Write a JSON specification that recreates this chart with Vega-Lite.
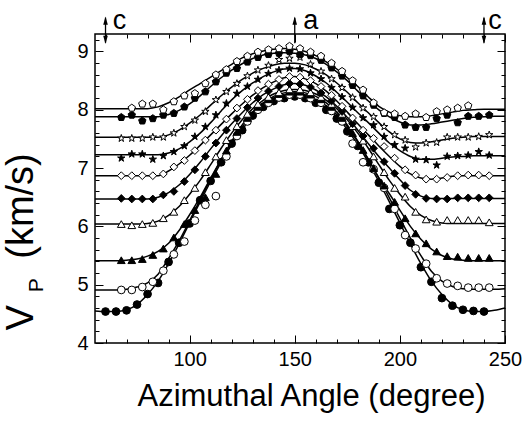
{
  "$schema": "https://vega.github.io/schema/vega-lite/v6.json",
  "autosize": {"type": "none"},
  "padding": {"left": 95, "top": 34, "right": 22, "bottom": 78},
  "width": 410,
  "height": 309,
  "config": {"view": {"stroke": "black", "strokeWidth": 1.5}, "font": "Liberation Sans"},
  "datasets": {
    "lines": [
      {"s":"a","x":55,"v":4.55},{"s":"a","x":60,"v":4.54},{"s":"a","x":65,"v":4.54},{"s":"a","x":70,"v":4.57},{"s":"a","x":75,"v":4.66},{"s":"a","x":80,"v":4.83},{"s":"a","x":85,"v":5.06},{"s":"a","x":90,"v":5.36},{"s":"a","x":95,"v":5.70},{"s":"a","x":100,"v":6.06},{"s":"a","x":105,"v":6.42},{"s":"a","x":110,"v":6.77},{"s":"a","x":115,"v":7.10},{"s":"a","x":120,"v":7.40},{"s":"a","x":125,"v":7.66},{"s":"a","x":130,"v":7.88},{"s":"a","x":135,"v":8.03},{"s":"a","x":140,"v":8.13},{"s":"a","x":145,"v":8.19},{"s":"a","x":150,"v":8.22},{"s":"a","x":155,"v":8.19},{"s":"a","x":160,"v":8.13},{"s":"a","x":165,"v":8.03},{"s":"a","x":170,"v":7.88},{"s":"a","x":175,"v":7.66},{"s":"a","x":180,"v":7.40},{"s":"a","x":185,"v":7.10},{"s":"a","x":190,"v":6.77},{"s":"a","x":195,"v":6.42},{"s":"a","x":200,"v":6.06},{"s":"a","x":205,"v":5.70},{"s":"a","x":210,"v":5.36},{"s":"a","x":215,"v":5.06},{"s":"a","x":220,"v":4.83},{"s":"a","x":225,"v":4.66},{"s":"a","x":230,"v":4.57},{"s":"a","x":235,"v":4.54},{"s":"a","x":240,"v":4.54},{"s":"a","x":245,"v":4.56},{"s":"a","x":250,"v":4.60},
      {"s":"b","x":55,"v":4.91},{"s":"b","x":60,"v":4.91},{"s":"b","x":65,"v":4.91},{"s":"b","x":70,"v":4.92},{"s":"b","x":75,"v":4.96},{"s":"b","x":80,"v":5.03},{"s":"b","x":85,"v":5.18},{"s":"b","x":90,"v":5.45},{"s":"b","x":95,"v":5.75},{"s":"b","x":100,"v":6.10},{"s":"b","x":105,"v":6.46},{"s":"b","x":110,"v":6.81},{"s":"b","x":115,"v":7.14},{"s":"b","x":120,"v":7.44},{"s":"b","x":125,"v":7.70},{"s":"b","x":130,"v":7.92},{"s":"b","x":135,"v":8.07},{"s":"b","x":140,"v":8.17},{"s":"b","x":145,"v":8.24},{"s":"b","x":150,"v":8.27},{"s":"b","x":155,"v":8.24},{"s":"b","x":160,"v":8.17},{"s":"b","x":165,"v":8.07},{"s":"b","x":170,"v":7.92},{"s":"b","x":175,"v":7.71},{"s":"b","x":180,"v":7.45},{"s":"b","x":185,"v":7.15},{"s":"b","x":190,"v":6.83},{"s":"b","x":195,"v":6.49},{"s":"b","x":200,"v":6.14},{"s":"b","x":205,"v":5.80},{"s":"b","x":210,"v":5.50},{"s":"b","x":215,"v":5.23},{"s":"b","x":220,"v":5.06},{"s":"b","x":225,"v":4.97},{"s":"b","x":230,"v":4.93},{"s":"b","x":235,"v":4.92},{"s":"b","x":240,"v":4.92},{"s":"b","x":245,"v":4.92},{"s":"b","x":250,"v":4.93},
      {"s":"c","x":55,"v":5.41},{"s":"c","x":60,"v":5.41},{"s":"c","x":65,"v":5.41},{"s":"c","x":70,"v":5.42},{"s":"c","x":75,"v":5.44},{"s":"c","x":80,"v":5.49},{"s":"c","x":85,"v":5.57},{"s":"c","x":90,"v":5.71},{"s":"c","x":95,"v":5.93},{"s":"c","x":100,"v":6.20},{"s":"c","x":105,"v":6.50},{"s":"c","x":110,"v":6.83},{"s":"c","x":115,"v":7.15},{"s":"c","x":120,"v":7.46},{"s":"c","x":125,"v":7.74},{"s":"c","x":130,"v":7.96},{"s":"c","x":135,"v":8.12},{"s":"c","x":140,"v":8.23},{"s":"c","x":145,"v":8.29},{"s":"c","x":150,"v":8.31},{"s":"c","x":155,"v":8.29},{"s":"c","x":160,"v":8.23},{"s":"c","x":165,"v":8.12},{"s":"c","x":170,"v":7.96},{"s":"c","x":175,"v":7.74},{"s":"c","x":180,"v":7.46},{"s":"c","x":185,"v":7.15},{"s":"c","x":190,"v":6.83},{"s":"c","x":195,"v":6.56},{"s":"c","x":200,"v":6.28},{"s":"c","x":205,"v":6.00},{"s":"c","x":210,"v":5.78},{"s":"c","x":215,"v":5.61},{"s":"c","x":220,"v":5.50},{"s":"c","x":225,"v":5.44},{"s":"c","x":230,"v":5.42},{"s":"c","x":235,"v":5.41},{"s":"c","x":240,"v":5.41},{"s":"c","x":245,"v":5.41},{"s":"c","x":250,"v":5.41},
      {"s":"d","x":55,"v":6.04},{"s":"d","x":60,"v":6.04},{"s":"d","x":65,"v":6.04},{"s":"d","x":70,"v":6.04},{"s":"d","x":75,"v":6.04},{"s":"d","x":80,"v":6.05},{"s":"d","x":85,"v":6.09},{"s":"d","x":90,"v":6.19},{"s":"d","x":95,"v":6.34},{"s":"d","x":100,"v":6.55},{"s":"d","x":105,"v":6.79},{"s":"d","x":110,"v":7.06},{"s":"d","x":115,"v":7.34},{"s":"d","x":120,"v":7.60},{"s":"d","x":125,"v":7.83},{"s":"d","x":130,"v":8.02},{"s":"d","x":135,"v":8.16},{"s":"d","x":140,"v":8.27},{"s":"d","x":145,"v":8.33},{"s":"d","x":150,"v":8.35},{"s":"d","x":155,"v":8.33},{"s":"d","x":160,"v":8.27},{"s":"d","x":165,"v":8.16},{"s":"d","x":170,"v":8.02},{"s":"d","x":175,"v":7.83},{"s":"d","x":180,"v":7.60},{"s":"d","x":185,"v":7.34},{"s":"d","x":190,"v":7.06},{"s":"d","x":195,"v":6.79},{"s":"d","x":200,"v":6.55},{"s":"d","x":205,"v":6.34},{"s":"d","x":210,"v":6.19},{"s":"d","x":215,"v":6.10},{"s":"d","x":220,"v":6.06},{"s":"d","x":225,"v":6.05},{"s":"d","x":230,"v":6.05},{"s":"d","x":235,"v":6.05},{"s":"d","x":240,"v":6.05},{"s":"d","x":245,"v":6.05},{"s":"d","x":250,"v":6.05},
      {"s":"e","x":55,"v":6.47},{"s":"e","x":60,"v":6.47},{"s":"e","x":65,"v":6.47},{"s":"e","x":70,"v":6.47},{"s":"e","x":75,"v":6.47},{"s":"e","x":80,"v":6.47},{"s":"e","x":85,"v":6.50},{"s":"e","x":90,"v":6.58},{"s":"e","x":95,"v":6.71},{"s":"e","x":100,"v":6.89},{"s":"e","x":105,"v":7.10},{"s":"e","x":110,"v":7.33},{"s":"e","x":115,"v":7.55},{"s":"e","x":120,"v":7.76},{"s":"e","x":125,"v":7.95},{"s":"e","x":130,"v":8.12},{"s":"e","x":135,"v":8.26},{"s":"e","x":140,"v":8.36},{"s":"e","x":145,"v":8.43},{"s":"e","x":150,"v":8.45},{"s":"e","x":155,"v":8.42},{"s":"e","x":160,"v":8.34},{"s":"e","x":165,"v":8.22},{"s":"e","x":170,"v":8.06},{"s":"e","x":175,"v":7.87},{"s":"e","x":180,"v":7.65},{"s":"e","x":185,"v":7.42},{"s":"e","x":190,"v":7.20},{"s":"e","x":195,"v":7.00},{"s":"e","x":200,"v":6.80},{"s":"e","x":205,"v":6.62},{"s":"e","x":210,"v":6.52},{"s":"e","x":215,"v":6.48},{"s":"e","x":220,"v":6.48},{"s":"e","x":225,"v":6.48},{"s":"e","x":230,"v":6.48},{"s":"e","x":235,"v":6.48},{"s":"e","x":240,"v":6.48},{"s":"e","x":245,"v":6.48},{"s":"e","x":250,"v":6.48},
      {"s":"f","x":55,"v":6.87},{"s":"f","x":60,"v":6.87},{"s":"f","x":65,"v":6.87},{"s":"f","x":70,"v":6.87},{"s":"f","x":75,"v":6.87},{"s":"f","x":80,"v":6.87},{"s":"f","x":85,"v":6.87},{"s":"f","x":90,"v":6.95},{"s":"f","x":95,"v":7.07},{"s":"f","x":100,"v":7.22},{"s":"f","x":105,"v":7.39},{"s":"f","x":110,"v":7.57},{"s":"f","x":115,"v":7.75},{"s":"f","x":120,"v":7.93},{"s":"f","x":125,"v":8.10},{"s":"f","x":130,"v":8.25},{"s":"f","x":135,"v":8.38},{"s":"f","x":140,"v":8.48},{"s":"f","x":145,"v":8.55},{"s":"f","x":150,"v":8.57},{"s":"f","x":155,"v":8.53},{"s":"f","x":160,"v":8.45},{"s":"f","x":165,"v":8.32},{"s":"f","x":170,"v":8.15},{"s":"f","x":175,"v":7.96},{"s":"f","x":180,"v":7.76},{"s":"f","x":185,"v":7.57},{"s":"f","x":190,"v":7.38},{"s":"f","x":195,"v":7.20},{"s":"f","x":200,"v":7.03},{"s":"f","x":205,"v":6.90},{"s":"f","x":210,"v":6.83},{"s":"f","x":215,"v":6.81},{"s":"f","x":220,"v":6.83},{"s":"f","x":225,"v":6.86},{"s":"f","x":230,"v":6.87},{"s":"f","x":235,"v":6.87},{"s":"f","x":240,"v":6.87},{"s":"f","x":245,"v":6.87},{"s":"f","x":250,"v":6.87},
      {"s":"g","x":55,"v":7.23},{"s":"g","x":60,"v":7.23},{"s":"g","x":65,"v":7.23},{"s":"g","x":70,"v":7.23},{"s":"g","x":75,"v":7.23},{"s":"g","x":80,"v":7.23},{"s":"g","x":85,"v":7.23},{"s":"g","x":90,"v":7.26},{"s":"g","x":95,"v":7.33},{"s":"g","x":100,"v":7.45},{"s":"g","x":105,"v":7.60},{"s":"g","x":110,"v":7.78},{"s":"g","x":115,"v":7.98},{"s":"g","x":120,"v":8.17},{"s":"g","x":125,"v":8.33},{"s":"g","x":130,"v":8.46},{"s":"g","x":135,"v":8.57},{"s":"g","x":140,"v":8.65},{"s":"g","x":145,"v":8.70},{"s":"g","x":150,"v":8.71},{"s":"g","x":155,"v":8.67},{"s":"g","x":160,"v":8.58},{"s":"g","x":165,"v":8.46},{"s":"g","x":170,"v":8.30},{"s":"g","x":175,"v":8.13},{"s":"g","x":180,"v":7.95},{"s":"g","x":185,"v":7.78},{"s":"g","x":190,"v":7.60},{"s":"g","x":195,"v":7.43},{"s":"g","x":200,"v":7.30},{"s":"g","x":205,"v":7.20},{"s":"g","x":210,"v":7.15},{"s":"g","x":215,"v":7.15},{"s":"g","x":220,"v":7.17},{"s":"g","x":225,"v":7.19},{"s":"g","x":230,"v":7.20},{"s":"g","x":235,"v":7.21},{"s":"g","x":240,"v":7.21},{"s":"g","x":245,"v":7.21},{"s":"g","x":250,"v":7.21},
      {"s":"h","x":55,"v":7.53},{"s":"h","x":60,"v":7.53},{"s":"h","x":65,"v":7.53},{"s":"h","x":70,"v":7.53},{"s":"h","x":75,"v":7.53},{"s":"h","x":80,"v":7.53},{"s":"h","x":85,"v":7.53},{"s":"h","x":90,"v":7.57},{"s":"h","x":95,"v":7.65},{"s":"h","x":100,"v":7.77},{"s":"h","x":105,"v":7.91},{"s":"h","x":110,"v":8.08},{"s":"h","x":115,"v":8.24},{"s":"h","x":120,"v":8.39},{"s":"h","x":125,"v":8.52},{"s":"h","x":130,"v":8.63},{"s":"h","x":135,"v":8.71},{"s":"h","x":140,"v":8.77},{"s":"h","x":145,"v":8.80},{"s":"h","x":150,"v":8.80},{"s":"h","x":155,"v":8.77},{"s":"h","x":160,"v":8.70},{"s":"h","x":165,"v":8.60},{"s":"h","x":170,"v":8.46},{"s":"h","x":175,"v":8.30},{"s":"h","x":180,"v":8.12},{"s":"h","x":185,"v":7.95},{"s":"h","x":190,"v":7.78},{"s":"h","x":195,"v":7.62},{"s":"h","x":200,"v":7.50},{"s":"h","x":205,"v":7.44},{"s":"h","x":210,"v":7.43},{"s":"h","x":215,"v":7.45},{"s":"h","x":220,"v":7.48},{"s":"h","x":225,"v":7.51},{"s":"h","x":230,"v":7.53},{"s":"h","x":235,"v":7.54},{"s":"h","x":240,"v":7.54},{"s":"h","x":245,"v":7.54},{"s":"h","x":250,"v":7.54},
      {"s":"i","x":55,"v":7.88},{"s":"i","x":60,"v":7.88},{"s":"i","x":65,"v":7.88},{"s":"i","x":70,"v":7.88},{"s":"i","x":75,"v":7.88},{"s":"i","x":80,"v":7.88},{"s":"i","x":85,"v":7.88},{"s":"i","x":90,"v":7.92},{"s":"i","x":95,"v":7.99},{"s":"i","x":100,"v":8.10},{"s":"i","x":105,"v":8.24},{"s":"i","x":110,"v":8.40},{"s":"i","x":115,"v":8.55},{"s":"i","x":120,"v":8.68},{"s":"i","x":125,"v":8.79},{"s":"i","x":130,"v":8.88},{"s":"i","x":135,"v":8.94},{"s":"i","x":140,"v":8.97},{"s":"i","x":145,"v":8.98},{"s":"i","x":150,"v":8.97},{"s":"i","x":155,"v":8.94},{"s":"i","x":160,"v":8.88},{"s":"i","x":165,"v":8.78},{"s":"i","x":170,"v":8.65},{"s":"i","x":175,"v":8.50},{"s":"i","x":180,"v":8.32},{"s":"i","x":185,"v":8.15},{"s":"i","x":190,"v":8.00},{"s":"i","x":195,"v":7.88},{"s":"i","x":200,"v":7.79},{"s":"i","x":205,"v":7.74},{"s":"i","x":210,"v":7.74},{"s":"i","x":215,"v":7.76},{"s":"i","x":220,"v":7.79},{"s":"i","x":225,"v":7.82},{"s":"i","x":230,"v":7.85},{"s":"i","x":235,"v":7.87},{"s":"i","x":240,"v":7.88},{"s":"i","x":245,"v":7.89},{"s":"i","x":250,"v":7.89},
      {"s":"j","x":55,"v":8.02},{"s":"j","x":60,"v":8.02},{"s":"j","x":65,"v":8.02},{"s":"j","x":70,"v":8.02},{"s":"j","x":75,"v":8.02},{"s":"j","x":80,"v":8.02},{"s":"j","x":85,"v":8.05},{"s":"j","x":90,"v":8.12},{"s":"j","x":95,"v":8.22},{"s":"j","x":100,"v":8.34},{"s":"j","x":105,"v":8.45},{"s":"j","x":110,"v":8.56},{"s":"j","x":115,"v":8.67},{"s":"j","x":120,"v":8.78},{"s":"j","x":125,"v":8.89},{"s":"j","x":130,"v":8.96},{"s":"j","x":135,"v":9.01},{"s":"j","x":140,"v":9.04},{"s":"j","x":145,"v":9.05},{"s":"j","x":150,"v":9.04},{"s":"j","x":155,"v":9.00},{"s":"j","x":160,"v":8.93},{"s":"j","x":165,"v":8.82},{"s":"j","x":170,"v":8.70},{"s":"j","x":175,"v":8.55},{"s":"j","x":180,"v":8.40},{"s":"j","x":185,"v":8.22},{"s":"j","x":190,"v":8.06},{"s":"j","x":195,"v":7.96},{"s":"j","x":200,"v":7.90},{"s":"j","x":205,"v":7.88},{"s":"j","x":210,"v":7.88},{"s":"j","x":215,"v":7.90},{"s":"j","x":220,"v":7.93},{"s":"j","x":225,"v":7.96},{"s":"j","x":230,"v":7.99},{"s":"j","x":235,"v":8.00},{"s":"j","x":240,"v":8.01},{"s":"j","x":245,"v":8.01},{"s":"j","x":250,"v":8.01}
    ],
    "pts": [
      {"s":"a","x":60,"v":4.54},{"s":"a","x":65,"v":4.54},{"s":"a","x":70,"v":4.56},{"s":"a","x":75,"v":4.66},{"s":"a","x":80,"v":4.84},{"s":"a","x":85,"v":5.03},{"s":"a","x":90,"v":5.39},{"s":"a","x":95,"v":5.72},{"s":"a","x":100,"v":6.05},{"s":"a","x":105,"v":6.45},{"s":"a","x":110,"v":6.78},{"s":"a","x":115,"v":7.1},{"s":"a","x":120,"v":7.42},{"s":"a","x":125,"v":7.65},{"s":"a","x":130,"v":7.9},{"s":"a","x":135,"v":8.05},{"s":"a","x":140,"v":8.15},{"s":"a","x":145,"v":8.2},{"s":"a","x":150,"v":8.23},{"s":"a","x":155,"v":8.2},{"s":"a","x":160,"v":8.12},{"s":"a","x":165,"v":8.0},{"s":"a","x":170,"v":7.85},{"s":"a","x":175,"v":7.63},{"s":"a","x":180,"v":7.38},{"s":"a","x":185,"v":7.1},{"s":"a","x":190,"v":6.75},{"s":"a","x":195,"v":6.3},{"s":"a","x":200,"v":6.02},{"s":"a","x":205,"v":5.72},{"s":"a","x":210,"v":5.3},{"s":"a","x":215,"v":5.05},{"s":"a","x":220,"v":4.77},{"s":"a","x":225,"v":4.64},{"s":"a","x":230,"v":4.57},{"s":"a","x":235,"v":4.55},{"s":"a","x":240,"v":4.54},
      {"s":"b","x":67.5,"v":4.91},{"s":"b","x":72.5,"v":4.91},{"s":"b","x":77.5,"v":4.96},{"s":"b","x":82.5,"v":5.05},{"s":"b","x":87.5,"v":5.24},{"s":"b","x":92.5,"v":5.52},{"s":"b","x":97.5,"v":5.74},{"s":"b","x":102.5,"v":6.1},{"s":"b","x":107.5,"v":6.37},{"s":"b","x":112.5,"v":6.52},{"s":"b","x":117.5,"v":7.2},{"s":"b","x":122.5,"v":7.55},{"s":"b","x":127.5,"v":7.8},{"s":"b","x":132.5,"v":8.0},{"s":"b","x":137.5,"v":8.12},{"s":"b","x":142.5,"v":8.21},{"s":"b","x":147.5,"v":8.26},{"s":"b","x":152.5,"v":8.26},{"s":"b","x":157.5,"v":8.2},{"s":"b","x":162.5,"v":8.12},{"s":"b","x":167.5,"v":7.98},{"s":"b","x":172.5,"v":7.8},{"s":"b","x":177.5,"v":7.42},{"s":"b","x":182.5,"v":7.1},{"s":"b","x":187.5,"v":6.98},{"s":"b","x":192.5,"v":6.66},{"s":"b","x":197.5,"v":6.3},{"s":"b","x":202.5,"v":5.85},{"s":"b","x":207.5,"v":5.62},{"s":"b","x":212.5,"v":5.36},{"s":"b","x":217.5,"v":5.11},{"s":"b","x":222.5,"v":5.02},{"s":"b","x":227.5,"v":4.98},{"s":"b","x":232.5,"v":4.95},{"s":"b","x":237.5,"v":4.95},{"s":"b","x":242.5,"v":4.95},
      {"s":"c","x":67.5,"v":5.42},{"s":"c","x":72.5,"v":5.42},{"s":"c","x":77.5,"v":5.44},{"s":"c","x":82.5,"v":5.51},{"s":"c","x":87.5,"v":5.62},{"s":"c","x":92.5,"v":5.81},{"s":"c","x":97.5,"v":6.04},{"s":"c","x":102.5,"v":6.28},{"s":"c","x":107.5,"v":6.5},{"s":"c","x":112.5,"v":6.9},{"s":"c","x":117.5,"v":7.3},{"s":"c","x":122.5,"v":7.62},{"s":"c","x":127.5,"v":7.86},{"s":"c","x":132.5,"v":8.05},{"s":"c","x":137.5,"v":8.18},{"s":"c","x":142.5,"v":8.27},{"s":"c","x":147.5,"v":8.31},{"s":"c","x":152.5,"v":8.31},{"s":"c","x":157.5,"v":8.26},{"s":"c","x":162.5,"v":8.18},{"s":"c","x":167.5,"v":8.05},{"s":"c","x":172.5,"v":7.86},{"s":"c","x":177.5,"v":7.6},{"s":"c","x":182.5,"v":7.31},{"s":"c","x":187.5,"v":7.0},{"s":"c","x":192.5,"v":6.7},{"s":"c","x":197.5,"v":6.42},{"s":"c","x":202.5,"v":6.14},{"s":"c","x":207.5,"v":5.88},{"s":"c","x":212.5,"v":5.71},{"s":"c","x":217.5,"v":5.57},{"s":"c","x":222.5,"v":5.49},{"s":"c","x":227.5,"v":5.48},{"s":"c","x":232.5,"v":5.46},{"s":"c","x":237.5,"v":5.46},{"s":"c","x":242.5,"v":5.46},
      {"s":"d","x":67.5,"v":6.04},{"s":"d","x":72.5,"v":6.02},{"s":"d","x":77.5,"v":6.04},{"s":"d","x":82.5,"v":6.06},{"s":"d","x":87.5,"v":6.14},{"s":"d","x":92.5,"v":6.25},{"s":"d","x":97.5,"v":6.45},{"s":"d","x":102.5,"v":6.66},{"s":"d","x":107.5,"v":6.93},{"s":"d","x":112.5,"v":7.2},{"s":"d","x":117.5,"v":7.48},{"s":"d","x":122.5,"v":7.72},{"s":"d","x":127.5,"v":7.93},{"s":"d","x":132.5,"v":8.1},{"s":"d","x":137.5,"v":8.22},{"s":"d","x":142.5,"v":8.3},{"s":"d","x":147.5,"v":8.35},{"s":"d","x":152.5,"v":8.35},{"s":"d","x":157.5,"v":8.3},{"s":"d","x":162.5,"v":8.22},{"s":"d","x":167.5,"v":8.1},{"s":"d","x":172.5,"v":7.93},{"s":"d","x":177.5,"v":7.72},{"s":"d","x":182.5,"v":7.47},{"s":"d","x":187.5,"v":7.2},{"s":"d","x":192.5,"v":6.93},{"s":"d","x":197.5,"v":6.66},{"s":"d","x":202.5,"v":6.51},{"s":"d","x":207.5,"v":6.25},{"s":"d","x":212.5,"v":6.12},{"s":"d","x":217.5,"v":6.08},{"s":"d","x":222.5,"v":6.11},{"s":"d","x":227.5,"v":6.11},{"s":"d","x":232.5,"v":6.11},{"s":"d","x":237.5,"v":6.11},{"s":"d","x":242.5,"v":6.07},
      {"s":"e","x":67.5,"v":6.48},{"s":"e","x":72.5,"v":6.47},{"s":"e","x":77.5,"v":6.47},{"s":"e","x":82.5,"v":6.47},{"s":"e","x":87.5,"v":6.54},{"s":"e","x":92.5,"v":6.6},{"s":"e","x":97.5,"v":6.77},{"s":"e","x":102.5,"v":6.97},{"s":"e","x":107.5,"v":7.2},{"s":"e","x":112.5,"v":7.43},{"s":"e","x":117.5,"v":7.65},{"s":"e","x":122.5,"v":7.85},{"s":"e","x":127.5,"v":8.04},{"s":"e","x":132.5,"v":8.2},{"s":"e","x":137.5,"v":8.32},{"s":"e","x":142.5,"v":8.4},{"s":"e","x":147.5,"v":8.45},{"s":"e","x":152.5,"v":8.44},{"s":"e","x":157.5,"v":8.39},{"s":"e","x":162.5,"v":8.29},{"s":"e","x":167.5,"v":8.15},{"s":"e","x":172.5,"v":7.97},{"s":"e","x":177.5,"v":7.76},{"s":"e","x":182.5,"v":7.55},{"s":"e","x":187.5,"v":7.34},{"s":"e","x":192.5,"v":7.11},{"s":"e","x":197.5,"v":6.91},{"s":"e","x":202.5,"v":6.7},{"s":"e","x":207.5,"v":6.55},{"s":"e","x":212.5,"v":6.48},{"s":"e","x":217.5,"v":6.47},{"s":"e","x":222.5,"v":6.47},{"s":"e","x":227.5,"v":6.49},{"s":"e","x":232.5,"v":6.49},{"s":"e","x":237.5,"v":6.49},{"s":"e","x":242.5,"v":6.49},
      {"s":"f","x":67.5,"v":6.87},{"s":"f","x":72.5,"v":6.87},{"s":"f","x":77.5,"v":6.87},{"s":"f","x":82.5,"v":6.87},{"s":"f","x":87.5,"v":6.9},{"s":"f","x":92.5,"v":7.02},{"s":"f","x":97.5,"v":7.13},{"s":"f","x":102.5,"v":7.3},{"s":"f","x":107.5,"v":7.48},{"s":"f","x":112.5,"v":7.65},{"s":"f","x":117.5,"v":7.84},{"s":"f","x":122.5,"v":8.03},{"s":"f","x":127.5,"v":8.18},{"s":"f","x":132.5,"v":8.33},{"s":"f","x":137.5,"v":8.44},{"s":"f","x":142.5,"v":8.52},{"s":"f","x":147.5,"v":8.57},{"s":"f","x":152.5,"v":8.56},{"s":"f","x":157.5,"v":8.5},{"s":"f","x":162.5,"v":8.4},{"s":"f","x":167.5,"v":8.25},{"s":"f","x":172.5,"v":8.06},{"s":"f","x":177.5,"v":7.86},{"s":"f","x":182.5,"v":7.65},{"s":"f","x":187.5,"v":7.51},{"s":"f","x":192.5,"v":7.37},{"s":"f","x":197.5,"v":7.17},{"s":"f","x":202.5,"v":6.97},{"s":"f","x":207.5,"v":6.88},{"s":"f","x":212.5,"v":6.81},{"s":"f","x":217.5,"v":6.81},{"s":"f","x":222.5,"v":6.84},{"s":"f","x":227.5,"v":6.87},{"s":"f","x":232.5,"v":6.88},{"s":"f","x":237.5,"v":6.88},{"s":"f","x":242.5,"v":6.87},
      {"s":"g","x":67.5,"v":7.17},{"s":"g","x":72.5,"v":7.24},{"s":"g","x":77.5,"v":7.24},{"s":"g","x":82.5,"v":7.15},{"s":"g","x":87.5,"v":7.21},{"s":"g","x":92.5,"v":7.28},{"s":"g","x":97.5,"v":7.38},{"s":"g","x":102.5,"v":7.54},{"s":"g","x":107.5,"v":7.71},{"s":"g","x":112.5,"v":7.91},{"s":"g","x":117.5,"v":8.11},{"s":"g","x":122.5,"v":8.28},{"s":"g","x":127.5,"v":8.4},{"s":"g","x":132.5,"v":8.52},{"s":"g","x":137.5,"v":8.62},{"s":"g","x":142.5,"v":8.68},{"s":"g","x":147.5,"v":8.71},{"s":"g","x":152.5,"v":8.7},{"s":"g","x":157.5,"v":8.63},{"s":"g","x":162.5,"v":8.53},{"s":"g","x":167.5,"v":8.38},{"s":"g","x":172.5,"v":8.22},{"s":"g","x":177.5,"v":8.04},{"s":"g","x":182.5,"v":7.86},{"s":"g","x":187.5,"v":7.74},{"s":"g","x":192.5,"v":7.54},{"s":"g","x":197.5,"v":7.4},{"s":"g","x":202.5,"v":7.34},{"s":"g","x":207.5,"v":7.15},{"s":"g","x":212.5,"v":7.14},{"s":"g","x":217.5,"v":7.05},{"s":"g","x":222.5,"v":7.2},{"s":"g","x":227.5,"v":7.21},{"s":"g","x":232.5,"v":7.22},{"s":"g","x":237.5,"v":7.28},{"s":"g","x":242.5,"v":7.22},
      {"s":"h","x":67.5,"v":7.51},{"s":"h","x":72.5,"v":7.51},{"s":"h","x":77.5,"v":7.51},{"s":"h","x":82.5,"v":7.53},{"s":"h","x":87.5,"v":7.53},{"s":"h","x":92.5,"v":7.6},{"s":"h","x":97.5,"v":7.71},{"s":"h","x":102.5,"v":7.82},{"s":"h","x":107.5,"v":7.97},{"s":"h","x":112.5,"v":8.17},{"s":"h","x":117.5,"v":8.31},{"s":"h","x":122.5,"v":8.45},{"s":"h","x":127.5,"v":8.58},{"s":"h","x":132.5,"v":8.68},{"s":"h","x":137.5,"v":8.76},{"s":"h","x":142.5,"v":8.86},{"s":"h","x":147.5,"v":8.88},{"s":"h","x":152.5,"v":8.9},{"s":"h","x":157.5,"v":8.78},{"s":"h","x":162.5,"v":8.66},{"s":"h","x":167.5,"v":8.53},{"s":"h","x":172.5,"v":8.38},{"s":"h","x":177.5,"v":8.21},{"s":"h","x":182.5,"v":8.03},{"s":"h","x":187.5,"v":7.88},{"s":"h","x":192.5,"v":7.71},{"s":"h","x":197.5,"v":7.57},{"s":"h","x":202.5,"v":7.48},{"s":"h","x":207.5,"v":7.36},{"s":"h","x":212.5,"v":7.43},{"s":"h","x":217.5,"v":7.44},{"s":"h","x":222.5,"v":7.53},{"s":"h","x":227.5,"v":7.53},{"s":"h","x":232.5,"v":7.53},{"s":"h","x":237.5,"v":7.54},{"s":"h","x":242.5,"v":7.57},
      {"s":"i","x":67.5,"v":7.87},{"s":"i","x":72.5,"v":7.91},{"s":"i","x":77.5,"v":7.81},{"s":"i","x":82.5,"v":7.85},{"s":"i","x":87.5,"v":7.91},{"s":"i","x":92.5,"v":7.94},{"s":"i","x":97.5,"v":8.05},{"s":"i","x":102.5,"v":8.2},{"s":"i","x":107.5,"v":8.31},{"s":"i","x":112.5,"v":8.48},{"s":"i","x":117.5,"v":8.63},{"s":"i","x":122.5,"v":8.71},{"s":"i","x":127.5,"v":8.82},{"s":"i","x":132.5,"v":8.9},{"s":"i","x":137.5,"v":8.95},{"s":"i","x":142.5,"v":8.97},{"s":"i","x":147.5,"v":9.0},{"s":"i","x":152.5,"v":8.95},{"s":"i","x":157.5,"v":8.93},{"s":"i","x":162.5,"v":8.85},{"s":"i","x":167.5,"v":8.72},{"s":"i","x":172.5,"v":8.58},{"s":"i","x":177.5,"v":8.42},{"s":"i","x":182.5,"v":8.24},{"s":"i","x":187.5,"v":8.08},{"s":"i","x":192.5,"v":7.94},{"s":"i","x":197.5,"v":7.87},{"s":"i","x":202.5,"v":7.74},{"s":"i","x":207.5,"v":7.7},{"s":"i","x":212.5,"v":7.7},{"s":"i","x":217.5,"v":7.85},{"s":"i","x":222.5,"v":7.91},{"s":"i","x":227.5,"v":7.78},{"s":"i","x":232.5,"v":7.89},{"s":"i","x":237.5,"v":7.89},{"s":"i","x":242.5,"v":7.91},
      {"s":"j","x":72.5,"v":8.03},{"s":"j","x":77.5,"v":8.1},{"s":"j","x":82.5,"v":8.1},{"s":"j","x":87.5,"v":8.0},{"s":"j","x":92.5,"v":8.14},{"s":"j","x":97.5,"v":8.24},{"s":"j","x":102.5,"v":8.28},{"s":"j","x":107.5,"v":8.45},{"s":"j","x":112.5,"v":8.6},{"s":"j","x":117.5,"v":8.69},{"s":"j","x":122.5,"v":8.83},{"s":"j","x":127.5,"v":8.92},{"s":"j","x":132.5,"v":8.99},{"s":"j","x":137.5,"v":9.03},{"s":"j","x":142.5,"v":9.05},{"s":"j","x":147.5,"v":9.09},{"s":"j","x":152.5,"v":9.05},{"s":"j","x":157.5,"v":8.99},{"s":"j","x":162.5,"v":8.92},{"s":"j","x":167.5,"v":8.8},{"s":"j","x":172.5,"v":8.66},{"s":"j","x":177.5,"v":8.5},{"s":"j","x":182.5,"v":8.34},{"s":"j","x":187.5,"v":8.12},{"s":"j","x":192.5,"v":7.95},{"s":"j","x":197.5,"v":7.93},{"s":"j","x":202.5,"v":7.89},{"s":"j","x":207.5,"v":7.93},{"s":"j","x":212.5,"v":7.87},{"s":"j","x":217.5,"v":7.97},{"s":"j","x":222.5,"v":8.0},{"s":"j","x":227.5,"v":8.03},{"s":"j","x":232.5,"v":8.07}
    ],
    "arrows": [
      {"x":60,"y1":9.15,"y2":9.58},{"x":150,"y1":9.14,"y2":9.58},{"x":240,"y1":9.15,"y2":9.58}
    ],
    "heads": [
      {"x":60,"y":9.53,"d":"up"},{"x":60,"y":9.2,"d":"down"},{"x":150,"y":9.53,"d":"up"},{"x":240,"y":9.53,"d":"up"},{"x":240,"y":9.2,"d":"down"}
    ],
    "marks": [
      {"x":63.5,"y":9.38,"t":"c"},{"x":154,"y":9.38,"t":"a"},{"x":242,"y":9.38,"t":"c"}
    ],
    "ytitle": [
      {"x":20.2,"y":4.43,"t":"V"},{"x":20.2,"y":6.35,"t":"(km/s)"}
    ],
    "ysub": [
      {"x":27.6,"y":4.99,"t":"P"}
    ]
  },
  "layer": [
    {
      "data": {"name": "lines"},
      "mark": {"type": "line", "color": "black", "strokeWidth": 1.5, "interpolate": "monotone"},
      "encoding": {
        "x": {"field": "x", "type": "quantitative",
          "scale": {"domain": [55, 250], "nice": false, "zero": false},
          "axis": {"orient": "bottom", "values": [60,70,80,90,100,110,120,130,140,150,160,170,180,190,200,210,220,230,240,250],
            "tickSize": {"condition": {"test": "datum.value % 50 === 0", "value": -8}, "value": -4},
            "labelExpr": "datum.value % 50 === 0 ? format(datum.value, 'd') : ''",
            "labelPadding": 14, "labelFontSize": 20, "labelFont": "Liberation Sans", "labelColor": "black",
            "labelFlush": false, "labelOverlap": false,
            "tickColor": "black", "tickWidth": 1, "domain": false, "grid": false,
            "title": "Azimuthal Angle (degree)", "titleFontSize": 31, "titleFont": "Liberation Sans",
            "titleFontWeight": "normal", "titleColor": "black", "titleX": 216, "titleY": 62, "titleBaseline": "alphabetic"}},
        "y": {"field": "v", "type": "quantitative",
          "scale": {"domain": [4, 9.3], "nice": false, "zero": false},
          "axis": {"orient": "left", "values": [4,4.2,4.4,4.6,4.8,5,5.2,5.4,5.6,5.8,6,6.2,6.4,6.6,6.8,7,7.2,7.4,7.6,7.8,8,8.2,8.4,8.6,8.8,9,9.2],
            "tickSize": {"condition": {"test": "datum.value % 1 === 0", "value": -8}, "value": -4},
            "labelExpr": "datum.value % 1 === 0 ? format(datum.value, 'd') : ''",
            "labelPadding": 15, "labelFontSize": 20, "labelFont": "Liberation Sans", "labelColor": "black",
            "labelFlush": false, "labelOverlap": false,
            "tickColor": "black", "tickWidth": 1, "domain": false, "grid": false, "title": null}},
        "detail": {"field": "s", "type": "nominal"}
      }
    },
    {
      "data": {"name": "pts"},
      "mark": {"type": "point", "stroke": "black", "strokeWidth": 1, "opacity": 1},
      "encoding": {
        "x": {"field": "x", "type": "quantitative",
          "axis": {"orient": "top", "values": [60,70,80,90,100,110,120,130,140,150,160,170,180,190,200,210,220,230,240,250],
            "tickSize": {"condition": {"test": "datum.value % 50 === 0", "value": -8}, "value": -4},
            "labels": false, "tickColor": "black", "tickWidth": 1, "domain": false, "grid": false, "title": null}},
        "y": {"field": "v", "type": "quantitative",
          "axis": {"orient": "right", "values": [4,4.2,4.4,4.6,4.8,5,5.2,5.4,5.6,5.8,6,6.2,6.4,6.6,6.8,7,7.2,7.4,7.6,7.8,8,8.2,8.4,8.6,8.8,9,9.2],
            "tickSize": {"condition": {"test": "datum.value % 1 === 0", "value": -8}, "value": -4},
            "labels": false, "tickColor": "black", "tickWidth": 1, "domain": false, "grid": false, "title": null}},
        "shape": {"field": "s", "type": "nominal", "legend": null,
          "scale": {"domain": ["a","b","c","d","e","f","g","h","i","j"],
            "range": ["circle","circle","triangle-up","triangle-up","diamond","diamond",
              "M0,-1L0.2245,-0.309L0.951,-0.309L0.363,0.118L0.588,0.809L0,0.382L-0.588,0.809L-0.363,0.118L-0.951,-0.309L-0.2245,-0.309Z",
              "M0,-1L0.2245,-0.309L0.951,-0.309L0.363,0.118L0.588,0.809L0,0.382L-0.588,0.809L-0.363,0.118L-0.951,-0.309L-0.2245,-0.309Z",
              "M0,-1L0.951,-0.309L0.588,0.809L-0.588,0.809L-0.951,-0.309Z",
              "M0,-1L0.951,-0.309L0.588,0.809L-0.588,0.809L-0.951,-0.309Z"]}},
        "fill": {"field": "s", "type": "nominal", "legend": null,
          "scale": {"domain": ["a","b","c","d","e","f","g","h","i","j"],
            "range": ["black","white","black","white","black","white","black","white","black","white"]}},
        "size": {"field": "s", "type": "nominal", "legend": null,
          "scale": {"domain": ["a","b","c","d","e","f","g","h","i","j"],
            "range": [60,60,75,75,80,80,130,130,100,100]}}
      }
    },
    {
      "data": {"name": "arrows"},
      "mark": {"type": "rule", "color": "black", "strokeWidth": 1.3},
      "encoding": {
        "x": {"field": "x", "type": "quantitative", "axis": null},
        "y": {"field": "y1", "type": "quantitative", "axis": null},
        "y2": {"field": "y2"}
      }
    },
    {
      "data": {"name": "heads"},
      "mark": {"type": "point", "filled": true, "color": "black", "opacity": 1},
      "encoding": {
        "x": {"field": "x", "type": "quantitative", "axis": null},
        "y": {"field": "y", "type": "quantitative", "axis": null},
        "shape": {"field": "d", "type": "nominal", "legend": null,
          "scale": {"domain": ["up","down"], "range": ["M0,-1L0.55,1L-0.55,1Z","M0,1L0.55,-1L-0.55,-1Z"]}},
        "size": {"value": 70}
      }
    },
    {
      "data": {"name": "marks"},
      "mark": {"type": "text", "align": "left", "baseline": "alphabetic", "fontSize": 27, "font": "Liberation Sans", "color": "black"},
      "encoding": {
        "x": {"field": "x", "type": "quantitative", "axis": null},
        "y": {"field": "y", "type": "quantitative", "axis": null},
        "text": {"field": "t"}
      }
    },
    {
      "data": {"name": "ytitle"},
      "mark": {"type": "text", "align": "center", "baseline": "middle", "angle": 270, "fontSize": 38, "font": "Liberation Sans", "color": "black"},
      "encoding": {
        "x": {"field": "x", "type": "quantitative", "axis": null},
        "y": {"field": "y", "type": "quantitative", "axis": null},
        "text": {"field": "t"}
      }
    },
    {
      "data": {"name": "ysub"},
      "mark": {"type": "text", "align": "center", "baseline": "middle", "angle": 270, "fontSize": 21, "font": "Liberation Sans", "color": "black"},
      "encoding": {
        "x": {"field": "x", "type": "quantitative", "axis": null},
        "y": {"field": "y", "type": "quantitative", "axis": null},
        "text": {"field": "t"}
      }
    }
  ],
  "resolve": {"axis": {"x": "independent", "y": "independent"}, "scale": {"shape": "independent"}}
}
